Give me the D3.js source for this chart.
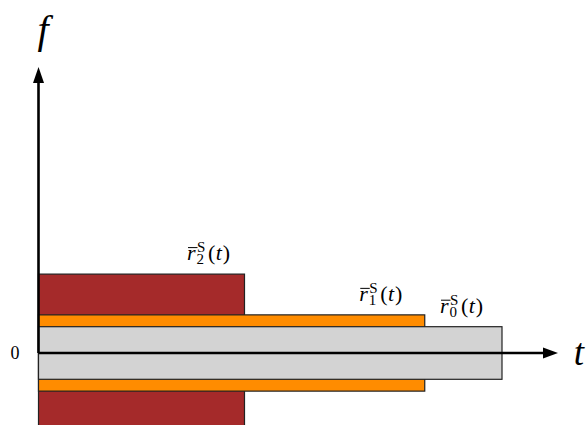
<!DOCTYPE html>
<html>
<head>
<script src="https://cdn.jsdelivr.net/npm/d3@7"></script>
</head>
<body style="margin:0">
<svg id="chart" width="588" height="425"></svg>
<script>
// Rate bands: duration along t and half-height along f, drawn symmetric about f = 0
const bandNames = ["2", "1", "0"];
const bandDurations = [2.0, 3.75, 4.5];
const bandHeights = [3.0, 1.45, 1.0];
const bandColors = ["#A52A2A", "#FF8C00", "#D3D3D3"];

const SERIF = "'Liberation Serif', 'Times New Roman', Times, serif";
const svg = d3.select("#chart");

const x = d3.scaleLinear().domain([0, 1]).range([38.5, 141.5]);
const y = d3.scaleLinear().domain([0, 1]).range([353, 326.7]);

// Bands, tallest first so narrower ones sit on top
const bands = bandNames.map((n, i) => ({
  name: n, dur: bandDurations[i], h: bandHeights[i], color: bandColors[i]
}));

svg.append("g").selectAll("rect").data(bands).join("rect")
  .attr("x", x(0))
  .attr("y", d => y(d.h))
  .attr("width", d => x(d.dur) - x(0))
  .attr("height", d => y(-d.h) - y(d.h))
  .attr("fill", d => d.color)
  .attr("stroke", "#222")
  .attr("stroke-width", 1.2);

// Axis lines with filled triangular heads
svg.append("line")
  .attr("x1", x(0)).attr("y1", y(0))
  .attr("x2", 544).attr("y2", y(0))
  .attr("stroke", "#000").attr("stroke-width", 2.6);
svg.append("path")
  .attr("d", `M543,${y(0) - 5.5} L558,${y(0)} L543,${y(0) + 5.5} Z`)
  .attr("fill", "#000");

svg.append("line")
  .attr("x1", x(0)).attr("y1", y(0))
  .attr("x2", x(0)).attr("y2", 82)
  .attr("stroke", "#000").attr("stroke-width", 2.6);
svg.append("path")
  .attr("d", `M${x(0) - 5.5},83 L${x(0)},67 L${x(0) + 5.5},83 Z`)
  .attr("fill", "#000");

// Axis titles
svg.append("text")
  .attr("x", 43).attr("y", 43)
  .attr("text-anchor", "middle")
  .style("font-family", SERIF)
  .style("font-style", "italic")
  .style("font-size", "40px")
  .text("f");

svg.append("text")
  .attr("x", 579).attr("y", 365)
  .attr("text-anchor", "middle")
  .style("font-family", SERIF)
  .style("font-style", "italic")
  .style("font-size", "37px")
  .text("t");

// Origin label
svg.append("text")
  .attr("x", 15).attr("y", 359)
  .attr("text-anchor", "middle")
  .style("font-family", SERIF)
  .style("font-size", "18px")
  .text(y.domain()[0]);

// Band labels: r-bar with superscript S and subscript index, placed above each band
const labelOffsets = [-57.5, -65.5, -62];

bands.forEach((d, i) => {
  const x0 = x(d.dur) + labelOffsets[i];
  const base = y(d.h) - 14;
  const g = svg.append("g");
  const t = g.append("text")
    .attr("x", x0).attr("y", base)
    .style("font-family", SERIF)
    .style("font-size", "22px");
  t.append("tspan").style("font-style", "italic").text("r");
  t.append("tspan").style("font-size", "15px").attr("dx", 1.5).attr("dy", -8).text("S");
  t.append("tspan").style("font-size", "15px").attr("dx", -9).attr("dy", 12).text(d.name);
  t.append("tspan").attr("dx", 4).attr("dy", -4).text("(");
  t.append("tspan").attr("dx", 0.5).style("font-style", "italic").text("t");
  t.append("tspan").attr("dx", 1).text(")");
  // overbar above the r
  g.append("line")
    .attr("x1", x0 + 1).attr("x2", x0 + 10.5)
    .attr("y1", base - 12.5).attr("y2", base - 12.5)
    .attr("stroke", "#000").attr("stroke-width", 1);
});
</script>
</body>
</html>
